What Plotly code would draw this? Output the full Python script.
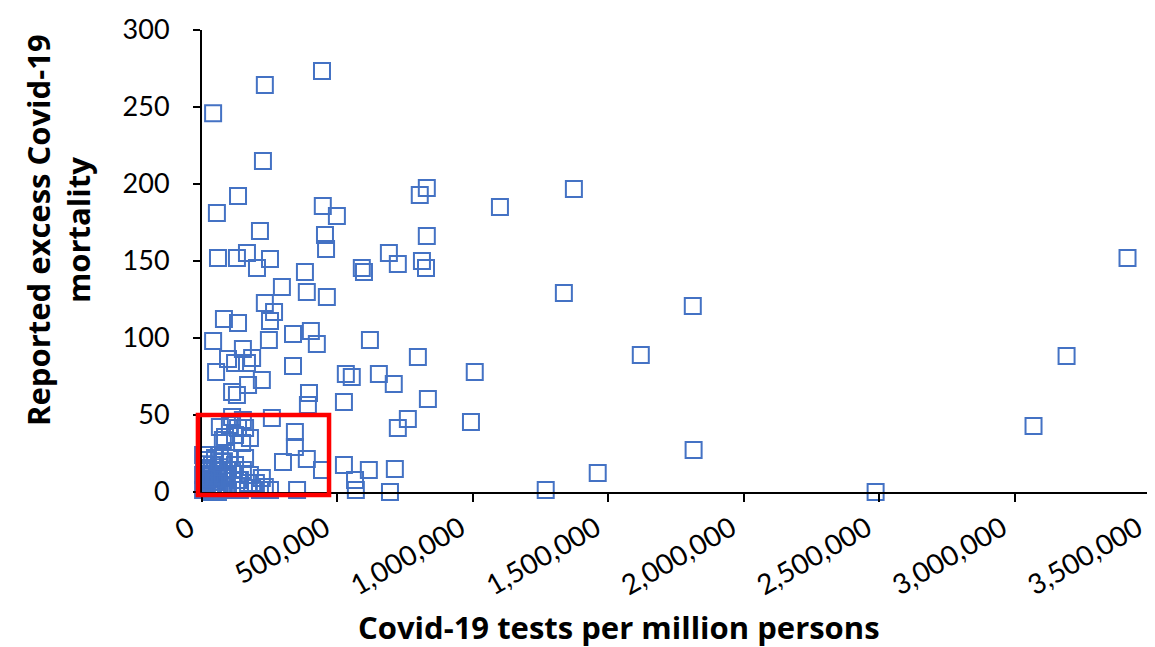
import plotly.graph_objects as go

# Covid-19 tests per million persons (x) and reported excess Covid-19 mortality (y)
tests_per_million = [
    443000, 232000, 41000, 225000, 55000, 133000, 446000, 498000, 830000, 804000,
    1100000, 1373000, 3417000, 214000, 166000, 59000, 129000, 251000, 203000, 454000,
    458000, 690000, 830000, 590000, 598000, 723000, 812000, 827000, 380000, 387000,
    461000, 295000, 1336000, 1812000, 232000, 266000, 251000, 81000, 133000, 336000,
    402000, 424000, 620000, 41000, 247000, 96000, 151000, 185000, 122000, 166000,
    1620000, 3192000, 797000, 52000, 221000, 336000, 531000, 553000, 653000, 708000,
    1007000, 170000, 111000, 129000, 395000, 524000, 834000, 391000, 760000, 723000,
    993000, 3070000, 258000, 111000, 151000, 66000, 103000, 133000, 159000, 85000,
    122000, 177000, 148000, 77000, 343000, 343000, 387000, 299000, 443000, 524000,
    616000, 712000, 1461000, 1815000, 565000, 568000, 694000, 1269000, 2487000, 351000,
    232000, 199000, 140000, 92000,
    11000, 11000, 11000, 18000, 30000, 30000, 37000, 48000, 48000, 59000,
    66000, 74000, 85000, 96000, 96000, 111000, 122000, 133000, 140000, 151000,
    170000, 185000, 214000, 221000, 66000, 22000, 103000, 159000, 177000, 4000,
    4000, 4000, 22000, 41000, 55000, 74000, 89000, 111000, 18000, 37000,
    59000, 251000, 7000, 26000, 44000, 63000, 81000, 15000,
]
excess_mortality = [
    273.4, 264.3, 246.0, 215.0, 181.2, 192.2, 185.7, 179.2, 197.4, 192.9,
    185.1, 196.8, 152.0, 169.5, 155.2, 152.0, 152.0, 151.3, 145.5, 166.9,
    157.8, 155.2, 166.2, 145.5, 142.9, 148.1, 150.0, 145.5, 142.9, 129.9,
    126.6, 133.1, 129.2, 120.8, 122.7, 116.9, 111.0, 112.3, 109.7, 102.6,
    104.6, 96.1, 98.7, 98.1, 98.7, 86.4, 92.9, 87.0, 83.8, 83.8,
    89.0, 88.3, 87.7, 77.9, 72.7, 81.8, 76.6, 74.7, 76.6, 70.1,
    77.9, 69.5, 64.9, 63.0, 64.3, 58.4, 60.4, 56.5, 47.4, 41.6,
    45.5, 42.9, 48.1, 48.7, 46.8, 42.2, 43.5, 41.6, 41.6, 35.7,
    37.0, 35.1, 31.8, 33.8, 39.0, 29.2, 21.4, 19.5, 14.3, 17.5,
    14.3, 14.9, 12.3, 27.3, 7.8, 1.3, 0.0, 1.3, 0.0, 1.3,
    3.2, 5.8, 7.8, 10.4,
    14.3, 7.8, 2.6, 20.8, 11.0, 1.3, 17.5, 6.5, 22.1, 14.3,
    2.6, 19.5, 9.1, 14.3, 1.3, 4.5, 17.5, 7.8, 1.3, 14.3,
    5.8, 2.6, 1.3, 9.1, 24.0, 24.0, 22.1, 22.1, 11.0, 24.0,
    11.0, 1.3, 15.6, 4.5, 9.1, 1.3, 4.5, 14.3, 5.8, 0.0,
    0.0, 1.3, 18.0, 12.0, 8.0, 16.0, 20.0, 9.0,
]

x_tick_values = [0, 500000, 1000000, 1500000, 2000000, 2500000, 3000000, 3500000]
x_tick_labels = ["0", "500,000", "1,000,000", "1,500,000", "2,000,000",
                 "2,500,000", "3,000,000", "3,500,000"]
y_tick_values = [0, 50, 100, 150, 200, 250, 300]

x_range = [0, 3500000]
y_range = [0, 300]

# Highlight box (data units)
box_x = [-15000, 469000]
box_y = [-2, 50]

FONT = "Lato"
TITLE_FONT = "Open Sans"
BLUE = "#4472C4"

fig = go.Figure()
fig.add_trace(go.Scatter(
    x=tests_per_million, y=excess_mortality, mode="markers",
    marker=dict(symbol="square-open", size=16, color=BLUE, line=dict(width=2, color=BLUE)),
    cliponaxis=False, showlegend=False,
))

def to_paper_x(v):
    return (v - x_range[0]) / (x_range[1] - x_range[0])

def to_paper_y(v):
    return (v - y_range[0]) / (y_range[1] - y_range[0])

fig.add_shape(type="rect", xref="paper", yref="paper",
              x0=to_paper_x(box_x[0]), x1=to_paper_x(box_x[1]),
              y0=to_paper_y(box_y[0]), y1=to_paper_y(box_y[1]),
              line=dict(color="#FF0000", width=4.5), fillcolor="rgba(0,0,0,0)", layer="above")

# trailing no-break spaces nudge each rotated label to end just short of its tick
x_tick_text = [t + "\u00a0\u00a0" for t in x_tick_labels]

# page body adds an 8px offset, so the figure is 8px smaller and margins shifted
fig.update_layout(
    width=1147, height=639,
    margin=dict(l=194, r=5, t=22, b=155, autoexpand=False),
    paper_bgcolor="white", plot_bgcolor="white",
    font=dict(family=FONT, color="black", size=26),
    xaxis=dict(range=x_range, tickvals=x_tick_values, ticktext=x_tick_text,
               tickangle=-30, showgrid=False, zeroline=False, automargin=False,
               showline=True, linecolor="black", linewidth=2,
               ticks="outside", ticklen=8, tickwidth=2, tickcolor="black",
               tickfont=dict(family=FONT, size=28, color="black"),
               ticklabelstandoff=-8, ticklabeloverflow="allow"),
    yaxis=dict(range=y_range, tickvals=y_tick_values, showgrid=False, zeroline=False,
               automargin=False,
               showline=True, linecolor="black", linewidth=2,
               ticks="outside", ticklen=7, tickwidth=2, tickcolor="black",
               tickfont=dict(family=FONT, size=27, color="black"),
               ticklabelstandoff=18, ticklabeloverflow="allow"),
    annotations=[
        dict(text="<b>Covid-19 tests per million persons</b>", xref="paper", yref="paper",
             x=0.44, y=-0.292, xanchor="center", yanchor="middle", showarrow=False,
             font=dict(family=TITLE_FONT, size=31, color="black")),
        dict(text="<b>Reported excess Covid-19<br>mortality</b>", xref="paper", yref="paper",
             x=-0.152, y=0.567, xanchor="center", yanchor="middle", showarrow=False,
             textangle=-90, font=dict(family=TITLE_FONT, size=31, color="black")),
    ],
)

fig.write_html("out.html")
